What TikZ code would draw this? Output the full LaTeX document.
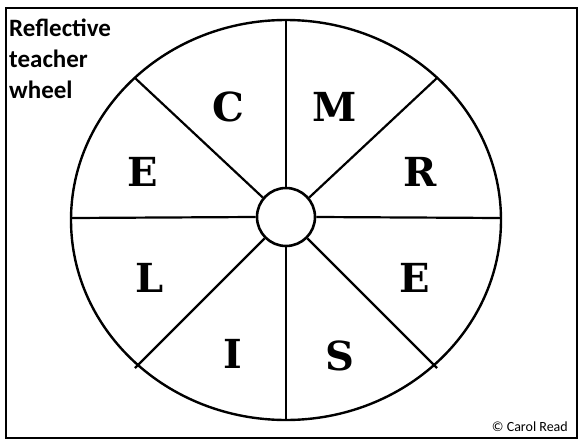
\documentclass[tikz,border=0pt]{standalone}
\usepackage{fontspec}
\setmainfont{Carlito}
\newfontfamily\wheelfont{DejaVu Serif}
\usetikzlibrary{positioning}
\tikzset{
  rim/.style={draw=black,line width=2.4pt},
  spoke/.style={draw=black,line width=2.2pt},
  hub/.style={circle,draw=black,line width=2.6pt,fill=white,minimum size=58pt,inner sep=0pt},
  letter/.style={font=\wheelfont\bfseries\fontsize{40}{40}\selectfont,inner sep=0pt},
  ttl/.style={font=\bfseries\fontsize{25}{31}\selectfont,align=left,inner sep=0pt},
  credit/.style={font=\fontsize{14}{16}\selectfont,inner sep=0pt},
}
\begin{document}
\begin{tikzpicture}[x=1pt,y=-1pt]
\useasboundingbox (0,0) rectangle (579,439);
% frame
\draw[line width=1.6pt] (6,8) rectangle (577,438);
% wheel
\draw[rim] (286,220) ellipse [x radius=215,y radius=200];
\node[hub] (hub) at (286,217) {};
\coordinate (n) at (286,20);
\coordinate (s) at (286,420);
\coordinate (w) at (71,218);
\coordinate (e) at (501,218);
\coordinate (nw) at (135,78);
\coordinate (ne) at (437,78);
\coordinate (sw) at (135,368);
\coordinate (se) at (437,368);
\foreach \p/\a in {n/90,s/270,w/180,e/0,nw/140,ne/40,sw/225,se/315}
  \draw[spoke] (hub.\a) -- (\p);
% letters
\node[letter] (c) at (228,107) {C};
\node[letter] (m) at (335,107) {M};
\node[letter] (r) at (420,172) {R};
\node[letter] (e1) at (143,172) {E};
\node[letter] (l) at (150,278) {L};
\node[letter] (e2) at (415,278) {E};
\node[letter] (i) at (233,354) {I};
\node[letter] (s1) at (340,356) {S};
% texts
\node[ttl,anchor=north west] (title) at (9,19) {Reflective\\teacher\\wheel};
\node[credit,anchor=south east] (copy) at (568,432) {© Carol Read};
\end{tikzpicture}
\end{document}
